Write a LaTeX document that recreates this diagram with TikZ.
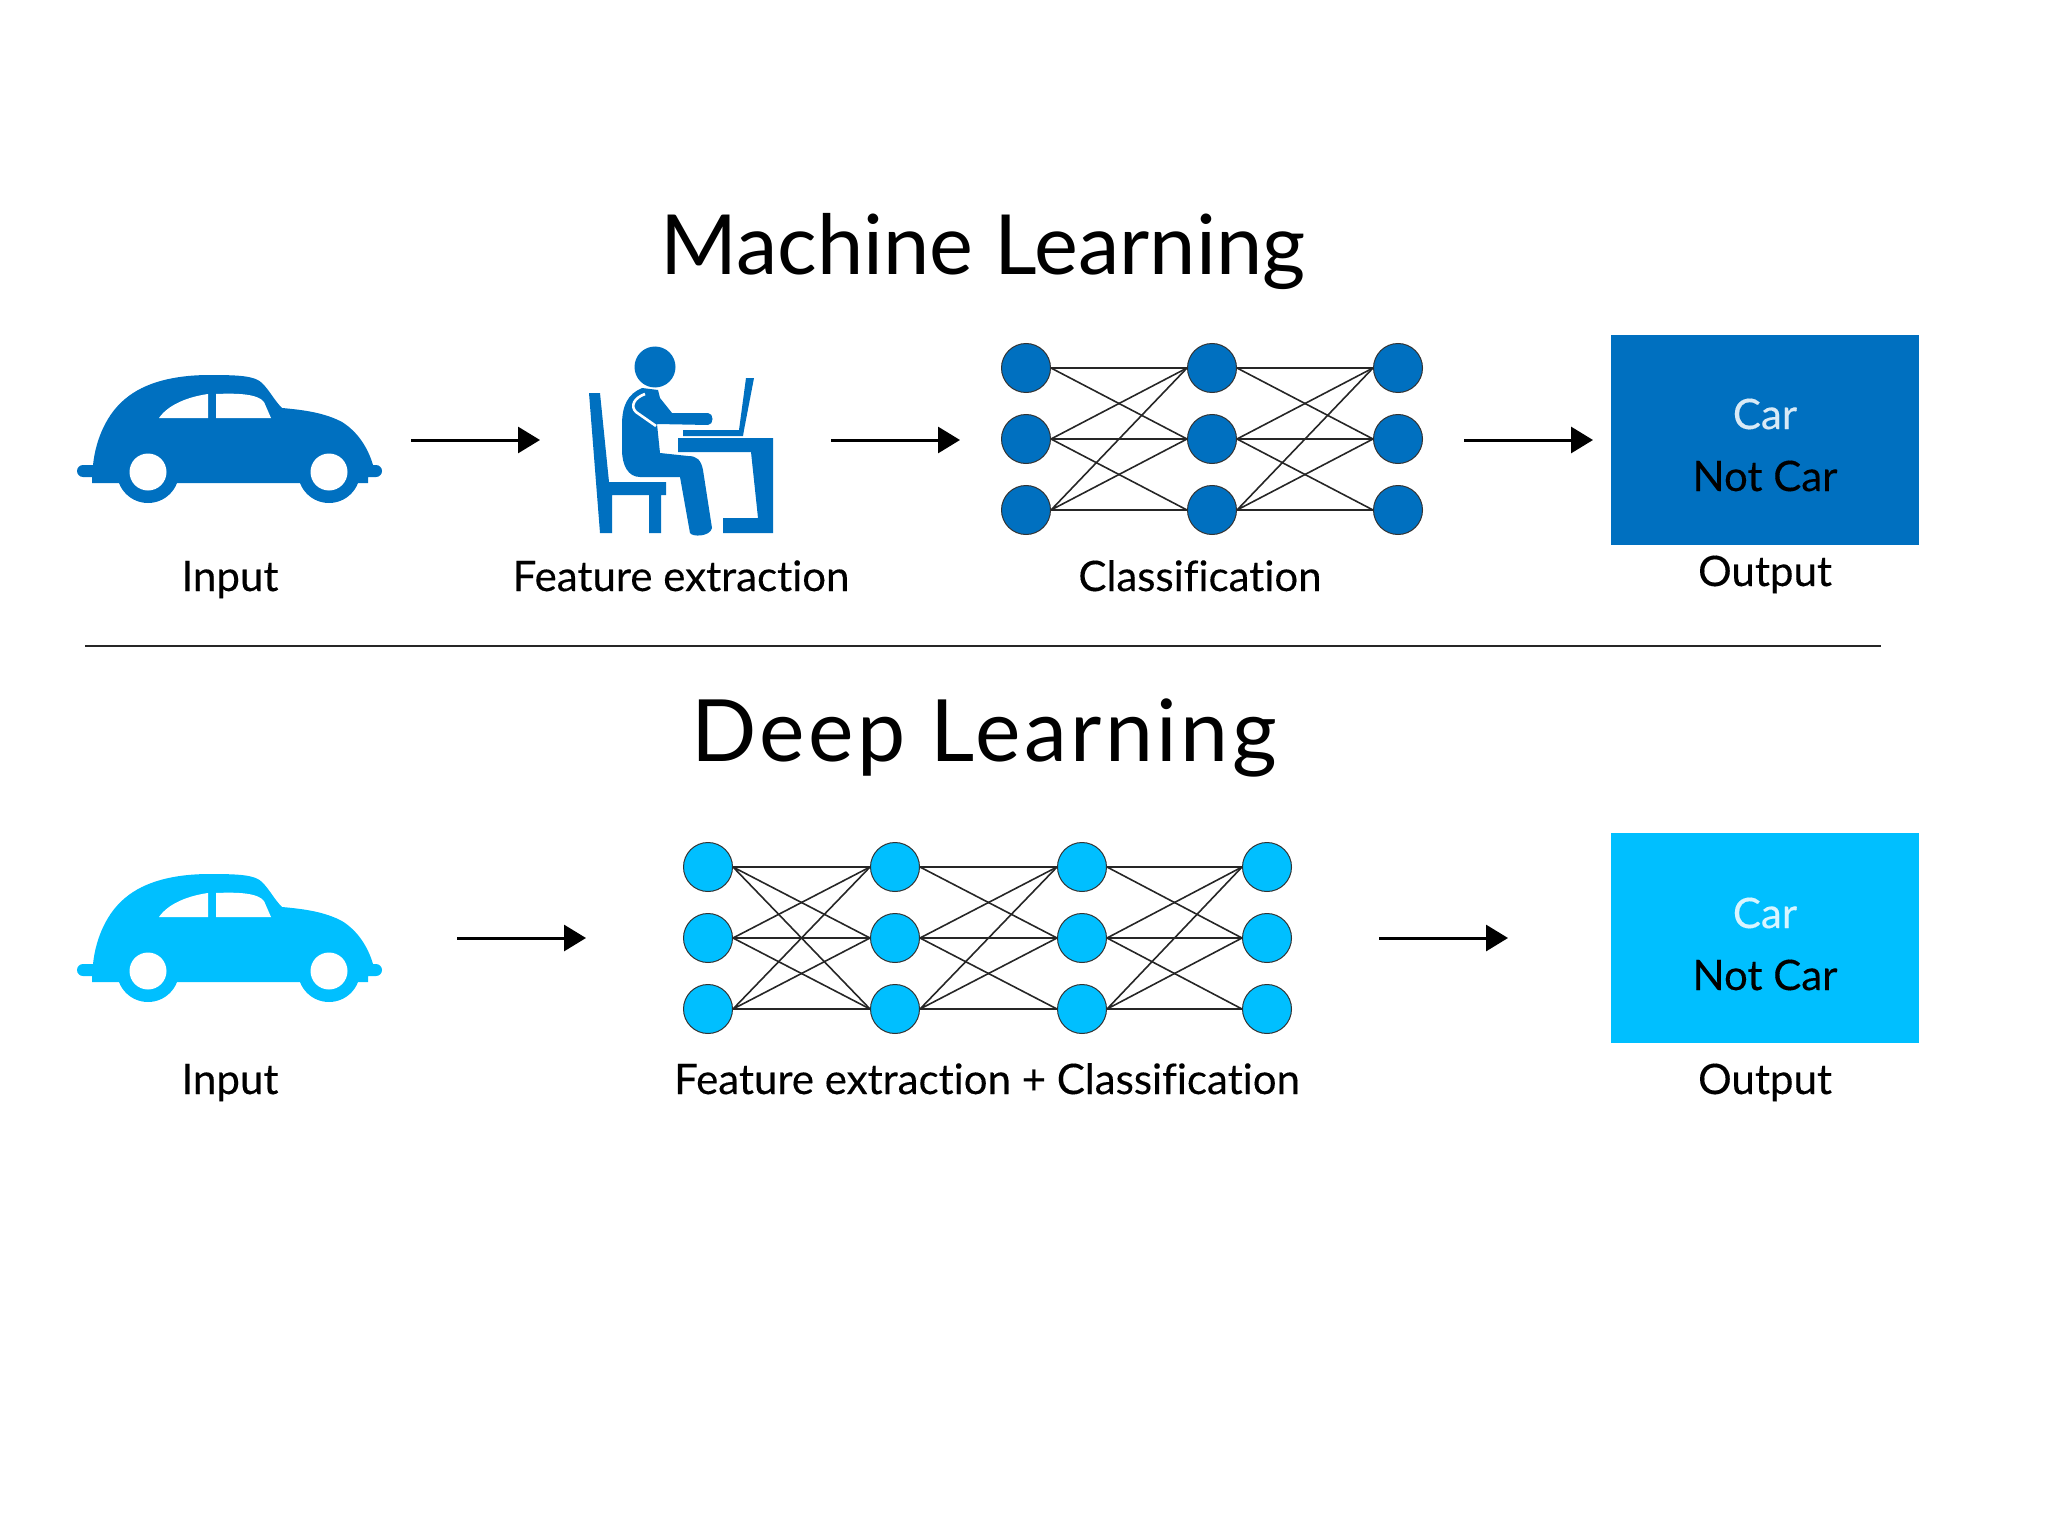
\documentclass[tikz,border=0pt]{standalone}
\usepackage{fontspec}
\setmainfont{Lato}[Ligatures=NoCommon, FakeBold=0.25]
\newfontfamily\titlefont{Lato}[Ligatures=NoCommon]
\newfontfamily\widefont{Lato}[Ligatures=NoCommon, LetterSpace=4]
\usetikzlibrary{arrows.meta}
\definecolor{mlblue}{HTML}{0070C0}
\definecolor{dlblue}{HTML}{00BFFF}
\tikzset{
	title/.style={anchor=base, font=\titlefont\fontsize{41.5}{42}\selectfont},
	widetitle/.style={anchor=base, font=\widefont\fontsize{43}{43}\selectfont},
	label/.style={anchor=base, font=\fontsize{21}{21}\selectfont},
	neuron/.style={circle, draw=black!80, line width=0.5pt, minimum size=24.5pt, inner sep=0pt},
	edge/.style={black!85, line width=0.8pt},
	flow/.style={line width=1.5pt, -{Triangle[length=11pt, width=13pt]}},
	outbox/.style={minimum width=154pt, minimum height=105pt, inner sep=0pt},
	car/.pic={
		\path[pic actions] (92,483) -- (92,477) -- (83,477) arc (90:270:6) -- (93,465)
			.. controls (96,437) and (108,413) .. (125,399)
			.. controls (145,382) and (175,375) .. (210,375)
			.. controls (240,375) and (255,376) .. (262,383)
			.. controls (270,391) and (274,400) .. (282,408)
			.. controls (305,410) and (325,413) .. (342,422)
			.. controls (358,432) and (368,448) .. (373,465)
			-- (376,465) arc (270:450:6) -- (368,477) -- (368,483) -- cycle;
		\path[pic actions] (148,472) circle (31);
		\path[pic actions] (329,472) circle (31);
		\fill[white] (148,472) circle (18.5);
		\fill[white] (329,472) circle (18.5);
		\fill[white] (159,418) .. controls (168,405) and (187,397) .. (208,394) -- (208,418) -- cycle;
		\fill[white] (216,394) .. controls (238,393) and (258,394) .. (264,402) -- (271,418) -- (216,418) -- cycle;
	}
}
\begin{document}
\begin{tikzpicture}[x=0.5pt, y=-0.5pt]
	\useasboundingbox (0,0) rectangle (2048,1540);
	% machine learning row
	\node[title] (mltitle) at (983,275) {Machine Learning};
	\pic[fill=mlblue] at (0,0) {car};
	\node[label] (mlinput) at (230,591) {Input};
	% worker at the desk
	\fill[mlblue] (655,367) circle (20.5);
	\fill[mlblue] (589,393) -- (600,393) -- (609,482) -- (666,482) -- (666,495) -- (661,495) -- (661,533)
		-- (649,533) -- (649,495) -- (612,495) -- (612,533) -- (600,533) -- cycle;
	\fill[mlblue] (642,388) .. controls (628,394) and (622,405) .. (622,425) -- (622,450)
		.. controls (622,465) and (628,477) .. (640,477) -- (680,477) -- (690,533)
		.. controls (692,537) and (710,537) .. (712,528) -- (703,470)
		.. controls (701,460) and (697,456) .. (688,456) -- (660,453) -- (657,424) -- (708,425)
		.. controls (714,425) and (714,413) .. (708,413) -- (672,413) -- (660,398) -- (658,390) -- cycle;
	\draw[white, line width=1.3pt] (645,394) .. controls (634,398) and (630,406) .. (636,412) -- (656,426);
	\fill[mlblue] (746,378) -- (754,378) -- (744,430) -- (743,436) -- (683,436) -- (683,430) -- (739,430) -- cycle;
	\fill[mlblue] (678,438) -- (773,438) -- (773,533) -- (723,533) -- (723,518) -- (758,518) -- (751,452) -- (678,452) -- cycle;
	\node[label] (mlfeature) at (681,591) {Feature extraction};
	% classification network
	\node[neuron, fill=mlblue] (ma1) at (1026,368) {};
	\node[neuron, fill=mlblue] (ma2) at (1026,439) {};
	\node[neuron, fill=mlblue] (ma3) at (1026,510) {};
	\node[neuron, fill=mlblue] (mb1) at (1212,368) {};
	\node[neuron, fill=mlblue] (mb2) at (1212,439) {};
	\node[neuron, fill=mlblue] (mb3) at (1212,510) {};
	\node[neuron, fill=mlblue] (mc1) at (1398,368) {};
	\node[neuron, fill=mlblue] (mc2) at (1398,439) {};
	\node[neuron, fill=mlblue] (mc3) at (1398,510) {};
	\draw[edge] (ma1.east) -- (mb1.west) (ma1.east) -- (mb2.west);
	\draw[edge] (ma2.east) -- (mb1.west) (ma2.east) -- (mb2.west) (ma2.east) -- (mb3.west);
	\draw[edge] (ma3.east) -- (mb1.west) (ma3.east) -- (mb2.west) (ma3.east) -- (mb3.west);
	\draw[edge] (mb1.east) -- (mc1.west) (mb1.east) -- (mc2.west);
	\draw[edge] (mb2.east) -- (mc1.west) (mb2.east) -- (mc2.west) (mb2.east) -- (mc3.west);
	\draw[edge] (mb3.east) -- (mc1.west) (mb3.east) -- (mc2.west) (mb3.east) -- (mc3.west);
	\node[label] (mlclass) at (1200,591) {Classification};
	% machine learning output
	\node[outbox, fill=mlblue] (mlbox) at (1765,440) {};
	\node[label, white!85!mlblue] (mlcar) at (1765,429) {Car};
	\node[label] (mlnot) at (1765,491) {Not Car};
	\node[label] (mloutput) at (1765,586) {Output};
	\coordinate (mf1) at (411,440);
	\coordinate (mt1) at (540,440);
	\coordinate (mf2) at (831,440);
	\coordinate (mt2) at (960,440);
	\coordinate (mf3) at (1464,440);
	\coordinate (mt3) at (1593,440);
	\draw[flow] (mf1) -- (mt1);
	\draw[flow] (mf2) -- (mt2);
	\draw[flow] (mf3) -- (mt3);
	% divider
	\coordinate (divl) at (85,646);
	\coordinate (divr) at (1881,646);
	\draw[black!85, line width=1pt] (divl) -- (divr);
	% deep learning row
	\node[widetitle] (dltitle) at (984,761) {Deep Learning};
	\pic[fill=dlblue] at (0,499) {car};
	\node[label] (dlinput) at (230,1094) {Input};
	\node[neuron, fill=dlblue] (da1) at (708,867) {};
	\node[neuron, fill=dlblue] (da2) at (708,938) {};
	\node[neuron, fill=dlblue] (da3) at (708,1009) {};
	\node[neuron, fill=dlblue] (db1) at (895,867) {};
	\node[neuron, fill=dlblue] (db2) at (895,938) {};
	\node[neuron, fill=dlblue] (db3) at (895,1009) {};
	\node[neuron, fill=dlblue] (dc1) at (1082,867) {};
	\node[neuron, fill=dlblue] (dc2) at (1082,938) {};
	\node[neuron, fill=dlblue] (dc3) at (1082,1009) {};
	\node[neuron, fill=dlblue] (dd1) at (1267,867) {};
	\node[neuron, fill=dlblue] (dd2) at (1267,938) {};
	\node[neuron, fill=dlblue] (dd3) at (1267,1009) {};
	\draw[edge] (da1.east) -- (db1.west) (da1.east) -- (db2.west) (da1.east) -- (db3.west);
	\draw[edge] (da2.east) -- (db1.west) (da2.east) -- (db2.west) (da2.east) -- (db3.west);
	\draw[edge] (da3.east) -- (db1.west) (da3.east) -- (db2.west) (da3.east) -- (db3.west);
	\draw[edge] (db1.east) -- (dc1.west) (db1.east) -- (dc2.west);
	\draw[edge] (db2.east) -- (dc1.west) (db2.east) -- (dc2.west) (db2.east) -- (dc3.west);
	\draw[edge] (db3.east) -- (dc1.west) (db3.east) -- (dc2.west) (db3.east) -- (dc3.west);
	\draw[edge] (dc1.east) -- (dd1.west) (dc1.east) -- (dd2.west);
	\draw[edge] (dc2.east) -- (dd1.west) (dc2.east) -- (dd2.west) (dc2.east) -- (dd3.west);
	\draw[edge] (dc3.east) -- (dd1.west) (dc3.east) -- (dd2.west) (dc3.east) -- (dd3.west);
	\node[label] (dlfeature) at (987,1094) {Feature extraction + Classification};
	% deep learning output
	\node[outbox, fill=dlblue] (dlbox) at (1765,938) {};
	\node[label, white!85!dlblue] (dlcar) at (1765,928) {Car};
	\node[label] (dlnot) at (1765,990) {Not Car};
	\node[label] (dloutput) at (1765,1094) {Output};
	\coordinate (df1) at (457,938);
	\coordinate (dt1) at (586,938);
	\coordinate (df2) at (1379,938);
	\coordinate (dt2) at (1508,938);
	\draw[flow] (df1) -- (dt1);
	\draw[flow] (df2) -- (dt2);
\end{tikzpicture}
\end{document}
